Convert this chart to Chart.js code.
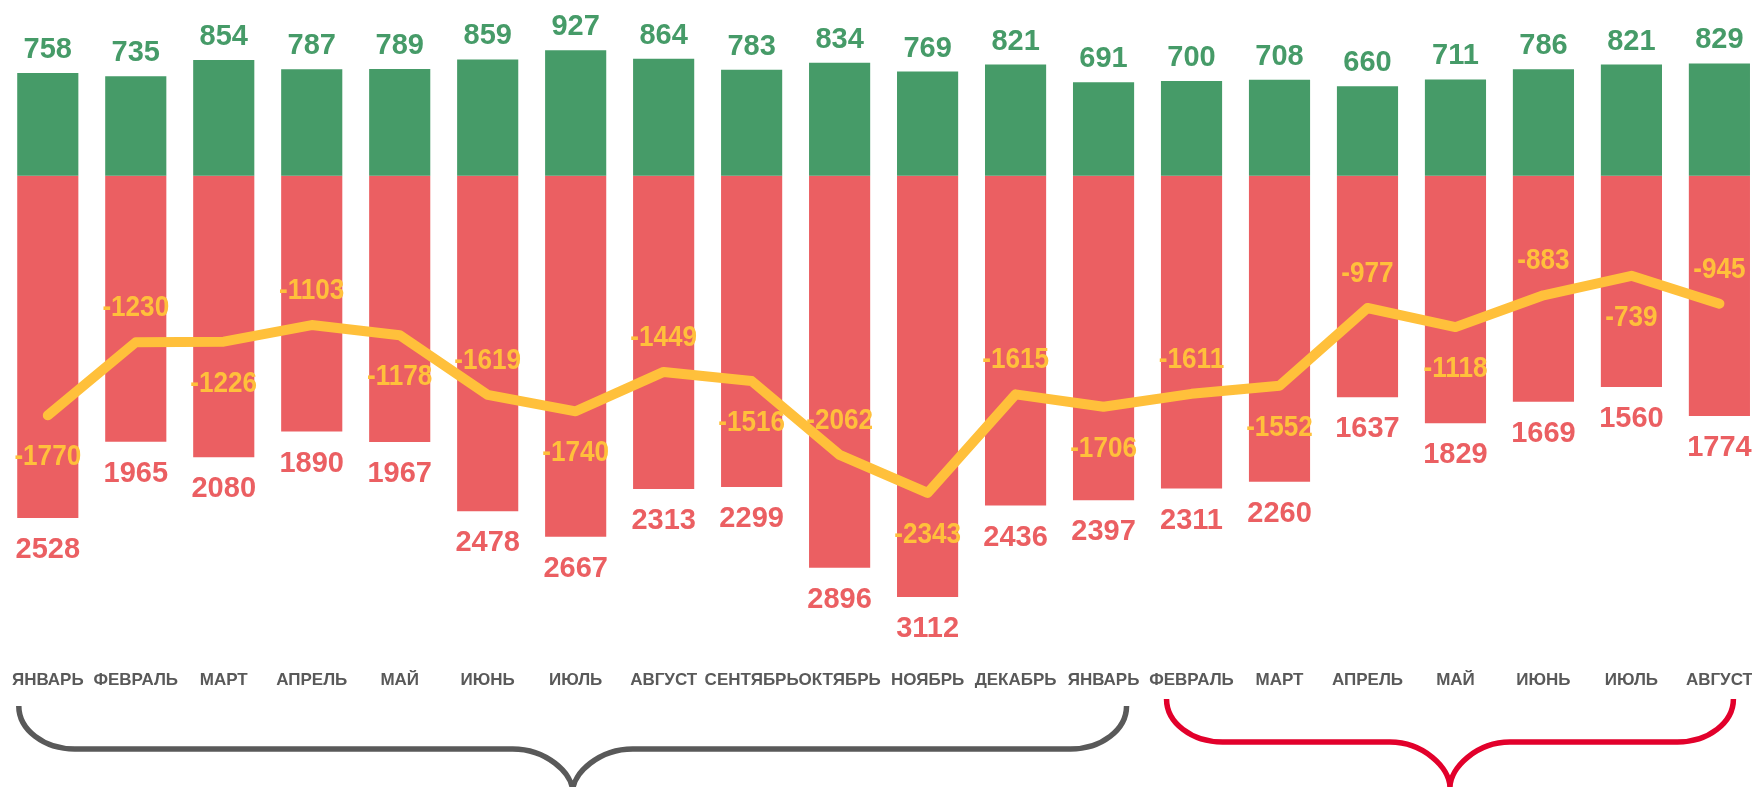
<!DOCTYPE html>
<html>
<head>
<meta charset="utf-8">
<script src="https://cdn.jsdelivr.net/npm/chart.js@4/dist/chart.umd.min.js"></script>
<style>
  html, body { margin: 0; padding: 0; overflow: hidden; background: #ffffff; }
  #wrap { width: 1752px; height: 787px; overflow: hidden; position: relative; }
  canvas { position: absolute; left: 0; top: 0; }
</style>
</head>
<body>
<div id="wrap"><canvas id="c" width="1770" height="787"></canvas></div>
<script>
// ---- data ----
const months = ["ЯНВАРЬ","ФЕВРАЛЬ","МАРТ","АПРЕЛЬ","МАЙ","ИЮНЬ","ИЮЛЬ","АВГУСТ","СЕНТЯБРЬ","ОКТЯБРЬ","НОЯБРЬ","ДЕКАБРЬ",
                "ЯНВАРЬ","ФЕВРАЛЬ","МАРТ","АПРЕЛЬ","МАЙ","ИЮНЬ","ИЮЛЬ","АВГУСТ"];
const incomeValues  = [758, 735, 854, 787, 789, 859, 927, 864, 783, 834, 769, 821, 691, 700, 708, 660, 711, 786, 821, 829];
const expenseValues = [2528, 1965, 2080, 1890, 1967, 2478, 2667, 2313, 2299, 2896, 3112, 2436, 2397, 2311, 2260, 1637, 1829, 1669, 1560, 1774];
const balanceValues = [-1770, -1230, -1226, -1103, -1178, -1619, -1740, -1449, -1516, -2062, -2343, -1615, -1706, -1611, -1552, -977, -1118, -883, -739, -945];
const groupFirst = [0, 13];   // first category index of each bracket group
const groupLast  = [12, 19];  // last category index of each bracket group

const GREEN = '#469B68';
const RED = '#EB5F62';
const YELLOW = '#FFC03B';
const GRAY = '#595959';
const BRACE_RED = '#E2002B';

const labelPlugin = {
  id: 'valueLabels',
  afterDatasetsDraw(chart) {
    const ctx = chart.ctx;
    ctx.save();
    ctx.textAlign = 'center';
    ctx.textBaseline = 'middle';
    ctx.font = 'bold 29px "Liberation Sans", Arial, sans-serif';
    ctx.fillStyle = GREEN;
    chart.getDatasetMeta(0).data.forEach((el, i) => {
      ctx.fillText(String(incomeValues[i]), el.x, el.y - 23);
    });
    ctx.fillStyle = RED;
    chart.getDatasetMeta(1).data.forEach((el, i) => {
      ctx.fillText(String(expenseValues[i]), el.x, el.y + 32);
    });
    ctx.fillStyle = YELLOW;
    chart.getDatasetMeta(2).data.forEach((el, i) => {
      const dy = (i % 2 === 0) ? 42 : -34;
      ctx.save();
      ctx.translate(el.x, el.y + dy);
      ctx.scale(0.9, 1);
      ctx.fillText(String(balanceValues[i]), 0, 0);
      ctx.restore();
    });
    ctx.restore();
  }
};

function drawBrace(ctx, xL, xR, yTop, yH, yTip, rx, rx2, color) {
  const xm = (xL + xR) / 2;
  const k = 0.552;
  ctx.beginPath();
  ctx.moveTo(xL, yTop);
  ctx.bezierCurveTo(xL, yTop + k * (yH - yTop), xL + rx * (1 - k), yH, xL + rx, yH);
  ctx.lineTo(xm - rx2, yH);
  ctx.bezierCurveTo(xm - rx2 * (1 - k), yH, xm, yH + k * (yTip - yH), xm, yTip);
  ctx.moveTo(xm, yTip);
  ctx.bezierCurveTo(xm, yH + k * (yTip - yH), xm + rx2 * (1 - k), yH, xm + rx2, yH);
  ctx.lineTo(xR - rx, yH);
  ctx.bezierCurveTo(xR - rx * (1 - k), yH, xR, yTop + k * (yH - yTop), xR, yTop);
  ctx.strokeStyle = color;
  ctx.lineWidth = 5.5;
  ctx.lineCap = 'butt';
  ctx.lineJoin = 'round';
  ctx.stroke();
}

const bracePlugin = {
  id: 'braces',
  afterDraw(chart) {
    const ctx = chart.ctx;
    const x = chart.scales.x;
    ctx.save();
    drawBrace(ctx,
      x.getPixelForValue(groupFirst[0]) - 29, x.getPixelForValue(groupLast[0]) + 23,
      706, 749, 792, 56, 60, GRAY);
    drawBrace(ctx,
      x.getPixelForValue(groupFirst[1]) - 25, x.getPixelForValue(groupLast[1]) + 14,
      699, 742, 788, 56, 60, BRACE_RED);
    ctx.restore();
  }
};

new Chart(document.getElementById('c'), {
  data: {
    labels: months,
    datasets: [
      { type: 'bar', data: incomeValues, backgroundColor: GREEN, barPercentage: 0.695, categoryPercentage: 1, order: 2 },
      { type: 'bar', data: expenseValues.map(v => -v), backgroundColor: RED, barPercentage: 0.695, categoryPercentage: 1, order: 2 },
      { type: 'line', data: balanceValues, borderColor: YELLOW, borderWidth: 10, pointRadius: 0,
        borderCapStyle: 'round', borderJoinStyle: 'round', tension: 0, order: 0 }
    ]
  },
  options: {
    responsive: false,
    devicePixelRatio: 1,
    animation: false,
    layout: { padding: { left: 3.8, right: 6.6, top: 20, bottom: 0 } },
    plugins: { legend: { display: false }, tooltip: { enabled: false } },
    scales: {
      x: {
        stacked: true,
        grid: { display: false, drawTicks: false },
        border: { display: false },
        ticks: {
          autoSkip: false, maxRotation: 0, minRotation: 0, padding: 30,
          color: GRAY, font: { family: '"Liberation Sans", Arial, sans-serif', size: 17, weight: 'bold' }
        },
        afterFit(axis) { axis.height = 147; axis.paddingLeft = 0; axis.paddingRight = 0; }
      },
      y: {
        display: false,
        stacked: false,
        min: -3429,
        max: 1150
      }
    }
  },
  plugins: [labelPlugin, bracePlugin]
});
</script>
</body>
</html>
